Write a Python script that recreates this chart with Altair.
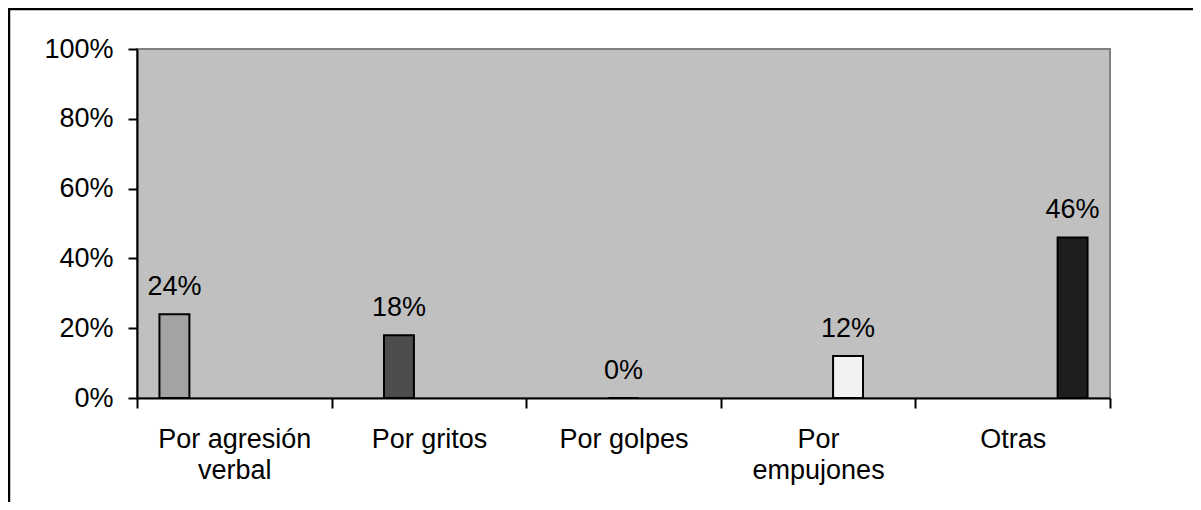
import altair as alt
import pandas as pd

categories = ["Por agresión verbal", "Por gritos", "Por golpes", "Por empujones", "Otras"]
values = [0.24, 0.18, 0.0, 0.12, 0.46]
colors = ["#a3a3a3", "#4d4d4d", "#808080", "#f2f2f2", "#1e1e1e"]
y_ticks = [0, 0.2, 0.4, 0.6, 0.8, 1.0]

df = pd.DataFrame({"cat": categories, "val": values})

FONT = "Liberation Sans"
FS = 27

x_enc = alt.X(
    "cat:N",
    sort=categories,
    scale=alt.Scale(paddingInner=0, paddingOuter=0),
    axis=alt.Axis(
        title=None,
        tickBand="extent",
        labelAngle=0,
        labelFont=FONT,
        labelFontSize=FS,
        labelColor="black",
        labelLineHeight=31,
        labelPadding=18,
        tickSize=10,
        tickWidth=2,
        tickColor="black",
        domainColor="black",
        domainWidth=2,
        labelExpr="datum.value == 'Por agresión verbal' ? ['Por agresión', 'verbal'] : datum.value == 'Por empujones' ? ['Por', 'empujones'] : datum.value",
    ),
)
xo_enc = alt.XOffset("cat:N", sort=categories, scale=alt.Scale(paddingInner=0, paddingOuter=0.75))
y_enc = alt.Y(
    "val:Q",
    scale=alt.Scale(domain=[0, 1], nice=False),
    axis=alt.Axis(
        title=None,
        values=y_ticks,
        format=".0%",
        grid=False,
        labelFont=FONT,
        labelFontSize=FS,
        labelColor="black",
        labelPadding=15,
        tickSize=9,
        tickWidth=2,
        tickColor="black",
        domainColor="black",
        domainWidth=2,
    ),
)

bars = alt.Chart(df).mark_bar(stroke="black", strokeWidth=2).encode(
    x=x_enc,
    xOffset=xo_enc,
    y=y_enc,
    color=alt.Color("cat:N", sort=categories, scale=alt.Scale(domain=categories, range=colors), legend=None),
)

labels = alt.Chart(df).mark_text(
    font=FONT, fontSize=FS, color="black", baseline="alphabetic", dy=-19
).encode(
    x=alt.X("cat:N", sort=categories),
    xOffset=alt.XOffset("cat:N", sort=categories),
    y="val:Q",
    text=alt.Text("val:Q", format=".0%"),
)

frame_df = pd.DataFrame({"a": [0]})
frame_left = alt.Chart(frame_df).mark_rule(color="black", strokeWidth=2.5).encode(
    x=alt.value(-128), y=alt.value(-40), y2=alt.value(460)
)
frame_top = alt.Chart(frame_df).mark_rule(color="black", strokeWidth=2.5).encode(
    x=alt.value(-129), x2=alt.value(1060), y=alt.value(-40)
)

chart = alt.layer(bars, labels, frame_left, frame_top).properties(
    width=973,
    height=349,
    autosize=alt.AutoSizeParams(type="none"),
    padding={"left": 129, "top": 41, "right": 83, "bottom": 104},
).configure(
    background="white"
).configure_view(
    fill="#c0c0c0", stroke="#808080", strokeWidth=2
)

chart.save("out.html", embed_options={"renderer": "svg", "actions": False})
